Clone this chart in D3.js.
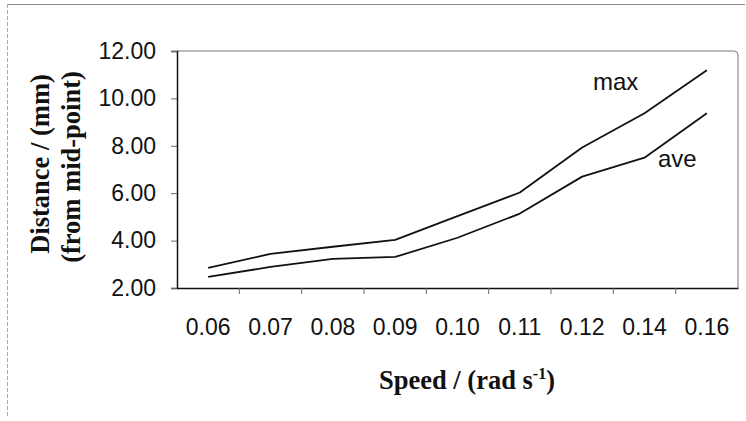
<!DOCTYPE html>
<html>
<head>
<meta charset="utf-8">
<script src="https://cdn.jsdelivr.net/npm/d3@7"></script>
<style>
  body { margin: 0; background: #fff; }
  svg { display: block; }
</style>
</head>
<body>
<div id="chart"></div>
<script>
const width = 746;
const height = 421;

// data
const speeds = ["0.06", "0.07", "0.08", "0.09", "0.10", "0.11", "0.12", "0.14", "0.16"];
const maxDist = [2.85, 3.44, 3.74, 4.03, 5.03, 6.03, 7.93, 9.37, 11.19];
const aveDist = [2.47, 2.89, 3.23, 3.31, 4.12, 5.14, 6.70, 7.50, 9.37];
const yTicks = [2, 4, 6, 8, 10, 12];

const margin = {top: 51, right: 8, bottom: 133, left: 177};

const svg = d3.select("#chart").append("svg")
  .attr("width", width)
  .attr("height", height)
  .attr("viewBox", [0, 0, width, height]);

// outer frame bits (scanned page edges)
svg.append("line")
  .attr("x1", 7).attr("x2", 745).attr("y1", 4.5).attr("y2", 4.5)
  .attr("stroke", "#888").attr("stroke-width", 1);
svg.append("line")
  .attr("x1", 7.5).attr("x2", 7.5).attr("y1", 4).attr("y2", 418)
  .attr("stroke", "#aaa").attr("stroke-width", 1)
  .attr("stroke-dasharray", "4,2");

// scales
const x = d3.scaleBand()
  .domain(speeds)
  .range([margin.left, width - margin.right])
  .padding(0);

const y = d3.scaleLinear()
  .domain([2, 12])
  .range([height - margin.bottom, margin.top]);

const xc = d => x(d) + x.bandwidth() / 2;

// plot area border (top + right), rounded corner
const x0 = margin.left, x1 = width - margin.right;
const yTop = margin.top, yBot = height - margin.bottom;
svg.append("path")
  .attr("d", `M${x0},${yTop}H${x1 - 4}Q${x1},${yTop} ${x1},${yTop + 4}V${yBot}`)
  .attr("fill", "none")
  .attr("stroke", "#777")
  .attr("stroke-width", 1);

// y axis
const yAxis = svg.append("g")
  .attr("transform", `translate(${margin.left},0)`)
  .call(d3.axisLeft(y).tickValues(yTicks).tickFormat(d3.format(".2f")).tickSize(6).tickPadding(15));
yAxis.select(".domain").attr("stroke", "#111").attr("stroke-width", 1.5);
yAxis.selectAll(".tick line").attr("stroke", "#666");
yAxis.selectAll(".tick text")
  .attr("font-family", "Liberation Sans, Arial, sans-serif")
  .attr("font-size", 23)
  .attr("fill", "#111");

// x axis - ticks sit between the categories
const xAxis = svg.append("g")
  .attr("transform", `translate(0,${yBot})`)
  .call(d3.axisBottom(x).tickSize(0).tickPadding(31));
xAxis.select(".domain").attr("stroke", "#111").attr("stroke-width", 1.5);
xAxis.selectAll(".tick text")
  .attr("font-family", "Liberation Sans, Arial, sans-serif")
  .attr("font-size", 23)
  .attr("fill", "#111");
xAxis.selectAll("line.sep")
  .data(speeds.slice(1))
  .join("line")
  .attr("class", "sep")
  .attr("x1", d => x(d)).attr("x2", d => x(d))
  .attr("y1", 0).attr("y2", 6)
  .attr("stroke", "#666");

// lines
const line = d3.line()
  .x((d, i) => xc(speeds[i]))
  .y(d => y(d));

svg.append("path")
  .datum(maxDist)
  .attr("d", line)
  .attr("fill", "none")
  .attr("stroke", "#111")
  .attr("stroke-width", 1.8)
  .attr("stroke-linejoin", "round");

svg.append("path")
  .datum(aveDist)
  .attr("d", line)
  .attr("fill", "none")
  .attr("stroke", "#111")
  .attr("stroke-width", 1.8)
  .attr("stroke-linejoin", "round");

// series labels
svg.append("text")
  .attr("x", 593).attr("y", 90)
  .attr("font-family", "Liberation Sans, Arial, sans-serif")
  .attr("font-size", 24)
  .attr("fill", "#111")
  .text("max");
svg.append("text")
  .attr("x", 658).attr("y", 167)
  .attr("font-family", "Liberation Sans, Arial, sans-serif")
  .attr("font-size", 24)
  .attr("fill", "#111")
  .text("ave");

// axis titles
const yTitle = svg.append("g")
  .attr("font-family", "Liberation Serif, Times New Roman, serif")
  .attr("font-weight", "bold")
  .attr("font-size", 26.5)
  .attr("fill", "#111")
  .attr("text-anchor", "middle");
yTitle.append("text")
  .attr("transform", "translate(49,164) rotate(-90)")
  .text("Distance / (mm)");
yTitle.append("text")
  .attr("transform", "translate(80,167) rotate(-90)")
  .text("(from mid-point)");

const xTitle = svg.append("text")
  .attr("x", 467).attr("y", 389)
  .attr("font-family", "Liberation Serif, Times New Roman, serif")
  .attr("font-weight", "bold")
  .attr("font-size", 26.5)
  .attr("fill", "#111")
  .attr("text-anchor", "middle");
xTitle.append("tspan").text("Speed / (rad s");
xTitle.append("tspan").attr("font-size", 16).attr("dy", -10).text("-1");
xTitle.append("tspan").attr("dy", 10).text(")");
</script>
</body>
</html>
